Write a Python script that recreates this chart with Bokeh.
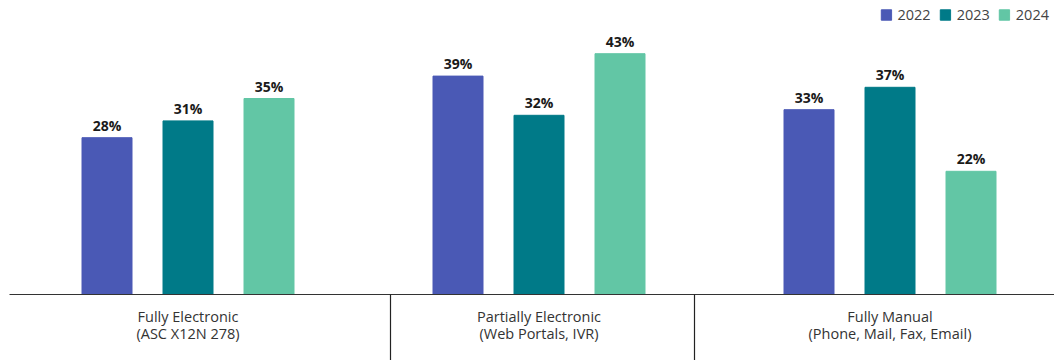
from bokeh.plotting import figure
from bokeh.models import ColumnDataSource, Range1d, Legend, LegendItem
from bokeh.core.properties import value
from bokeh.embed import file_html
from bokeh.resources import INLINE

categories_line1 = ["Fully Electronic", "Partially Electronic", "Fully Manual"]
categories_line2 = ["(ASC X12N 278)", "(Web Portals, IVR)", "(Phone, Mail, Fax, Email)"]
years = ["2022", "2023", "2024"]
values_2022 = [28, 39, 33]
values_2023 = [31, 32, 37]
values_2024 = [35, 43, 22]
colors = ["#4a59b5", "#007a88", "#62c6a5"]

W, H = 1054, 360
spacing_px = 351.0
first_px = 187.5
base_px = 294.0
ppu = 5.6  # pixels per percent

x_start = -first_px / spacing_px
x_end = (W - first_px) / spacing_px
y_end = base_px / ppu
y_start = -(H - base_px) / ppu

p = figure(width=W, height=H, output_backend="svg", toolbar_location=None,
           x_range=Range1d(x_start, x_end), y_range=Range1d(y_start, y_end),
           min_border=0, min_border_left=0, min_border_right=0,
           min_border_top=0, min_border_bottom=0)
p.axis.visible = False
p.grid.visible = False
p.outline_line_color = None
p.background_fill_color = "white"
p.border_fill_color = "white"

bar_w = 50 / spacing_px
offset = 81 / spacing_px
series = [values_2022, values_2023, values_2024]
renderers = []
for k, (vals, col) in enumerate(zip(series, colors)):
    xs = [i + (k - 1) * offset for i in range(len(vals))]
    src = ColumnDataSource(dict(x=xs, top=vals, lab=[f"{v}%" for v in vals]))
    r = p.vbar(x="x", top="top", bottom=0, width=bar_w, color=col, source=src)
    renderers.append(r)
    p.text(x="x", y="top", text="lab", source=src, text_align="center",
           text_baseline="bottom", y_offset=-3, text_font=value("Open Sans"),
           text_font_style="bold", text_font_size="14px", text_color="#1a1a1a")

# baseline
p.segment(x0=[(9 - first_px) / spacing_px], y0=[0], x1=[x_end], y1=[0],
          line_color="#333333", line_width=1.2)
# separators
sep = [(390 - first_px) / spacing_px, (694 - first_px) / spacing_px]
p.segment(x0=sep, y0=[0, 0], x1=sep, y1=[y_start, y_start],
          line_color="#222222", line_width=1.2)

cx = list(range(len(categories_line1)))
p.text(x=cx, y=[-22 / ppu] * 3, text=categories_line1, text_align="center",
       text_baseline="middle", text_font=value("Open Sans"), text_font_size="14.5px",
       text_color="#333333")
p.text(x=cx, y=[-39 / ppu] * 3, text=categories_line2, text_align="center",
       text_baseline="middle", text_font=value("Open Sans"), text_font_size="14.5px",
       text_color="#333333")

legend = Legend(items=[LegendItem(label=yr, renderers=[r]) for yr, r in zip(years, renderers)],
                orientation="horizontal", location="top_right",
                border_line_alpha=0, background_fill_alpha=0,
                glyph_width=13, glyph_height=13, label_standoff=5, spacing=8,
                padding=0, margin=5, label_text_font="Open Sans",
                label_text_font_size="14.5px", label_text_color="#444444")
p.add_layout(legend, "center")

open("out.html", "w").write(file_html(p, INLINE))
